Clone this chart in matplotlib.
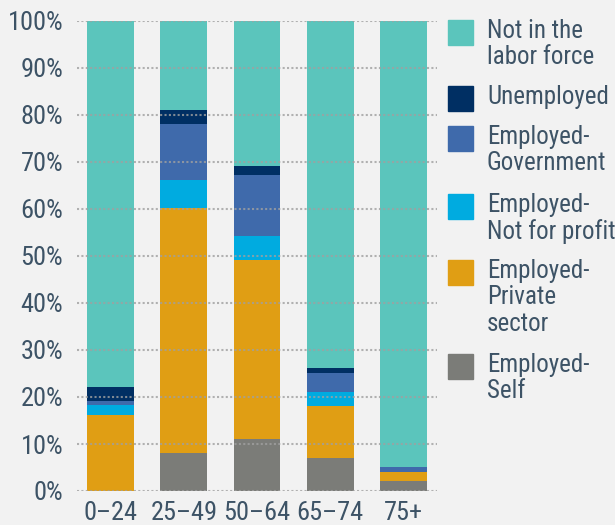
import matplotlib
matplotlib.use("Agg")
import matplotlib.pyplot as plt
from matplotlib.patches import Rectangle
import numpy as np

categories = ["0\u201324", "25\u201349", "50\u201364", "65\u201374", "75+"]
self_emp = [0.0, 8.1, 11.1, 7.0, 2.1]
private = [16.2, 52.1, 38.0, 11.1, 1.9]
not_for_profit = [2.0, 6.0, 5.2, 3.0, 0.0]
government = [1.0, 11.9, 12.9, 4.0, 1.1]
unemployed = [3.0, 3.0, 1.9, 1.1, 0.0]
not_in_lf = [77.8, 18.9, 30.9, 73.8, 94.9]

series_names = ["Employed-\nSelf", "Employed-\nPrivate\nsector", "Employed-\nNot for profit",
                "Employed-\nGovernment", "Unemployed", "Not in the\nlabor force"]
series_values = [self_emp, private, not_for_profit, government, unemployed, not_in_lf]
colors = ["#7b7c78", "#e09e14", "#00abe0", "#3f6aab", "#002f63", "#5bc5bc"]

fam = ["Roboto Condensed", "Archivo Narrow", "DejaVu Sans"]
txt = "#3d5366"
bg = "#f2f2f2"

fig = plt.figure(figsize=(6.15, 5.25), dpi=100, facecolor=bg)
ax = fig.add_axes([77/615, 1-491/525, 360/615, 470/525], facecolor=bg)

x = np.arange(len(categories))
bottom = np.zeros(len(categories))
for vals, c in zip(series_values, colors):
    v = np.array(vals)
    ax.bar(x, v, bottom=bottom, width=0.64, color=c, zorder=2, linewidth=0)
    bottom += v

ax.set_xlim(-0.46, 4.46)
ax.set_ylim(0, 100)
yt = np.arange(0, 101, 10)
ax.set_yticks(yt)
ax.set_yticklabels([f"{t}%" for t in yt], fontfamily=fam, fontsize=19, color=txt)
ax.set_xticks(x)
ax.set_xticklabels(categories, fontfamily=fam, fontsize=19, color=txt)
ax.tick_params(length=0)
ax.tick_params(axis='x', pad=7)
ax.tick_params(axis='y', pad=10)
for s in ax.spines.values():
    s.set_visible(False)
for t in yt:
    ax.axhline(t, color="#a0a0a0", linestyle=(0, (1, 1.1)), linewidth=1.5, zorder=3, alpha=0.8)

# legend (top to bottom)
leg_tops = [20, 86, 126, 194, 260, 354]
order = list(range(len(series_names)))[::-1]
for top, i in zip(leg_tops, order):
    fig.patches.append(Rectangle((448/615, 1-(top+25)/525), 25/615, 25/525,
                                 transform=fig.transFigure, color=colors[i], figure=fig))
    fig.text(487/615, 1-(top-1)/525, series_names[i], fontfamily=fam, fontsize=18,
             color=txt, va='top', ha='left', linespacing=1.12)

fig.savefig("out.png", dpi=100, facecolor=bg)
